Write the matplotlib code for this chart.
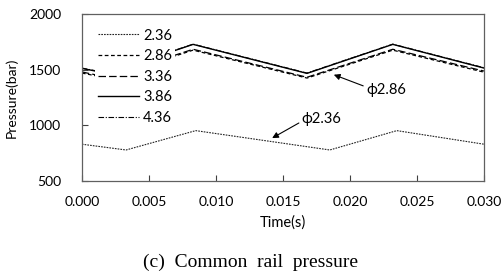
import matplotlib.pyplot as plt

plt.rcParams['font.family'] = ['Lato', 'DejaVu Sans']

# dados (tempo em s, pressão em bar)
t_low = [0.000, 0.0033, 0.0085, 0.0185, 0.0235, 0.030]
p_236 = [830, 778, 952, 778, 952, 830]

t_high = [0.000, 0.0019, 0.0083, 0.0168, 0.0232, 0.030]
p_286 = [1470, 1425, 1676, 1425, 1676, 1478]
p_336 = [1480, 1432, 1684, 1432, 1684, 1488]
p_386 = [1512, 1467, 1728, 1467, 1728, 1515]
p_436 = [1515, 1470, 1730, 1470, 1730, 1518]

rotulos = ['2.36', '2.86', '3.36', '3.86', '4.36']

fig = plt.figure(figsize=(5.02, 2.77), dpi=100)
ax = fig.add_axes([0.163, 0.347, 0.801, 0.602])

ax.plot(t_low, p_236, color='#222222', lw=0.8, ls=(0, (1.5, 1)), label=rotulos[0])
ax.plot(t_high, p_286, color='black', lw=0.9, ls=(0, (3, 2)), label=rotulos[1])
ax.plot(t_high, p_336, color='black', lw=0.9, ls=(0, (6, 2.5)), label=rotulos[2])
ax.plot(t_high, p_386, color='black', lw=1.0, ls='-', label=rotulos[3])
ax.plot(t_high, p_436, color='black', lw=0.8, ls=(0, (5, 1.5, 1, 1.5)), label=rotulos[4])

ax.set_xlim(0, 0.030)
ax.set_ylim(500, 2000)
ax.set_xticks([0.000, 0.005, 0.010, 0.015, 0.020, 0.025, 0.030])
ax.set_xticklabels(['0.000', '0.005', '0.010', '0.015', '0.020', '0.025', '0.030'])
ax.set_yticks([500, 1000, 1500, 2000])
ax.tick_params(direction='in', labelsize=10, length=4, width=0.8, color='#404040')
ax.tick_params(axis='x', pad=11)
ax.tick_params(axis='y', pad=15)
for s in ax.spines.values():
    s.set_color('#606060')
    s.set_linewidth(0.9)

ax.set_xlabel('Time(s)', fontsize=10.5, labelpad=5)
ax.set_ylabel('Pressure(bar)', fontsize=10, labelpad=8)

leg = ax.legend(loc='upper left', bbox_to_anchor=(0.015, 0.975), fontsize=10.5,
                frameon=True, framealpha=1, edgecolor='none', fancybox=False,
                handlelength=2.8, handletextpad=0.3, labelspacing=0.45,
                borderpad=0.2)

ax.annotate('ϕ2.86', xy=(0.0188, 1455), xytext=(0.0212, 1320), fontsize=10.5,
            va='center', arrowprops=dict(arrowstyle='-|>', color='black', lw=0.8,
                                         mutation_scale=9, shrinkA=0, shrinkB=0,
                                         relpos=(0, 0.7)))
ax.annotate('ϕ2.36', xy=(0.0142, 885), xytext=(0.0164, 1060), fontsize=10.5,
            va='center', arrowprops=dict(arrowstyle='-|>', color='black', lw=0.8,
                                         mutation_scale=9, shrinkA=0, shrinkB=0,
                                         relpos=(0, 0.3)))

fig.text(0.5, 0.035, '(c)  Common  rail  pressure', ha='center', fontsize=14,
         family='Liberation Serif')

plt.savefig('out.png', dpi=100)
